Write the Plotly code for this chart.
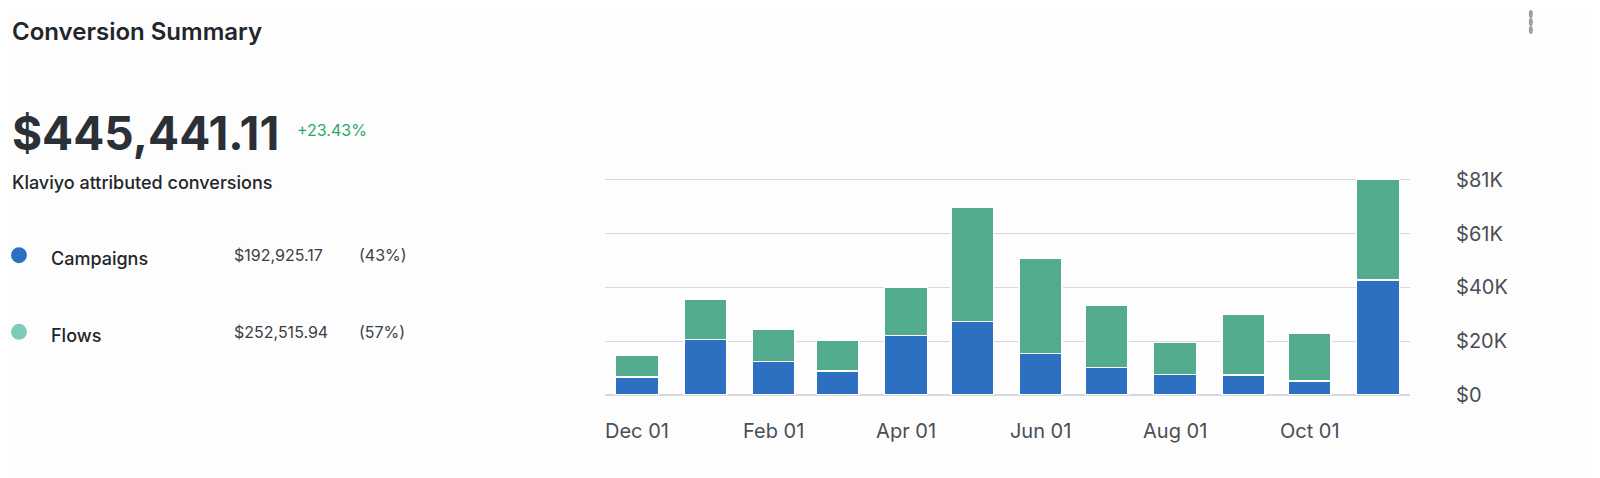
import plotly.graph_objects as go

months = ["2023-12-01","2024-01-01","2024-02-01","2024-03-01","2024-04-01","2024-05-01",
          "2024-06-01","2024-07-01","2024-08-01","2024-09-01","2024-10-01","2024-11-01"]
campaigns = [6.7, 20.9, 12.7, 9.0, 22.4, 27.6, 15.7, 10.4, 7.8, 7.5, 5.2, 43.3]
totals = [14.9, 36.2, 24.6, 20.5, 40.7, 70.5, 51.5, 33.6, 19.8, 30.2, 23.1, 81.0]
flows = [round(t - c, 1) for t, c in zip(totals, campaigns)]
tick_vals = [0, 20.25, 40.5, 60.75, 81]
tick_text = ["$0", "$20K", "$40K", "$61K", "$81K"]
x_ticks = ["2023-12-01", "2024-02-01", "2024-04-01", "2024-06-01", "2024-08-01", "2024-10-01"]
x_text = ["Dec 01", "Feb 01", "Apr 01", "Jun 01", "Aug 01", "Oct 01"]

BLUE = "#2d6fc0"
GREEN = "#52ab8f"
FONT = "Inter, Lato, sans-serif"

fig = go.Figure()
fig.add_bar(x=months, y=campaigns, marker=dict(color=BLUE, line=dict(color="white", width=1.5)), name="Campaigns")
fig.add_bar(x=months, y=flows, marker=dict(color=GREEN, line=dict(color="white", width=1.5)), name="Flows")

fig.update_layout(
    barmode="stack", bargap=0.33, width=1592, height=470, showlegend=False,
    paper_bgcolor="#fdfdfd", plot_bgcolor="#fdfdfd",
    margin=dict(l=0, r=0, t=0, b=0, autoexpand=False),
    font=dict(family=FONT, color="#3b3f45"),
    xaxis=dict(domain=[0.375, 0.8807], tickvals=x_ticks, ticktext=x_text, showgrid=False, automargin=False,
               tickfont=dict(size=20, color="#4a4e54"), showline=False, ticks="", ticklabelstandoff=22),
    yaxis=dict(domain=[0.1766, 0.638], side="right", range=[0, 81.6], tickvals=tick_vals, ticktext=tick_text,
               automargin=False, gridcolor="#d7d9dd", gridwidth=1, zeroline=True, zerolinecolor="#d7d9dd",
               tickfont=dict(size=20, color="#4a4e54"), ticklabelstandoff=45),
)

def txt(x, y, s, size, color="#22262b", weight=None, anchor="left"):
    fig.add_annotation(xref="paper", yref="paper", x=x, y=y, text=s, showarrow=False,
                       xanchor=anchor, yanchor="middle",
                       font=dict(size=size, color=color, family=FONT, weight=weight))

txt(0.0015, 0.949, "Conversion Summary", 24, weight=600)
txt(0.001, 0.734, "$445,441.11", 46, weight=700, color="#2b2f36")
txt(0.180, 0.740, "+23.43%", 16, color="#2ea86a")
txt(0.0015, 0.628, "Klaviyo attributed conversions", 18, weight=500)
txt(0.026, 0.468, "Campaigns", 18, weight=500)
txt(0.026, 0.304, "Flows", 18, weight=500)
txt(0.141, 0.474, "$192,925.17", 16, color="#3b3f45")
txt(0.219, 0.474, "(43%)", 16, color="#3b3f45")
txt(0.141, 0.311, "$252,515.94", 16, color="#3b3f45")
txt(0.219, 0.311, "(57%)", 16, color="#3b3f45")
fig.add_shape(type="circle", xref="paper", yref="paper", x0=0.0019, x1=0.0119, y0=0.457, y1=0.491,
              fillcolor=BLUE, line=dict(width=0))
fig.add_shape(type="circle", xref="paper", yref="paper", x0=0.0019, x1=0.0119, y0=0.294, y1=0.328,
              fillcolor="#7fcbb9", line=dict(width=0))
for yy in [0.987, 0.970, 0.953]:
    fig.add_shape(type="circle", xref="paper", yref="paper", x0=0.9553, x1=0.9578, y0=yy-0.0085, y1=yy+0.0085,
                  fillcolor="#9a9da2", line=dict(width=0))

fig.write_html("out.html")
